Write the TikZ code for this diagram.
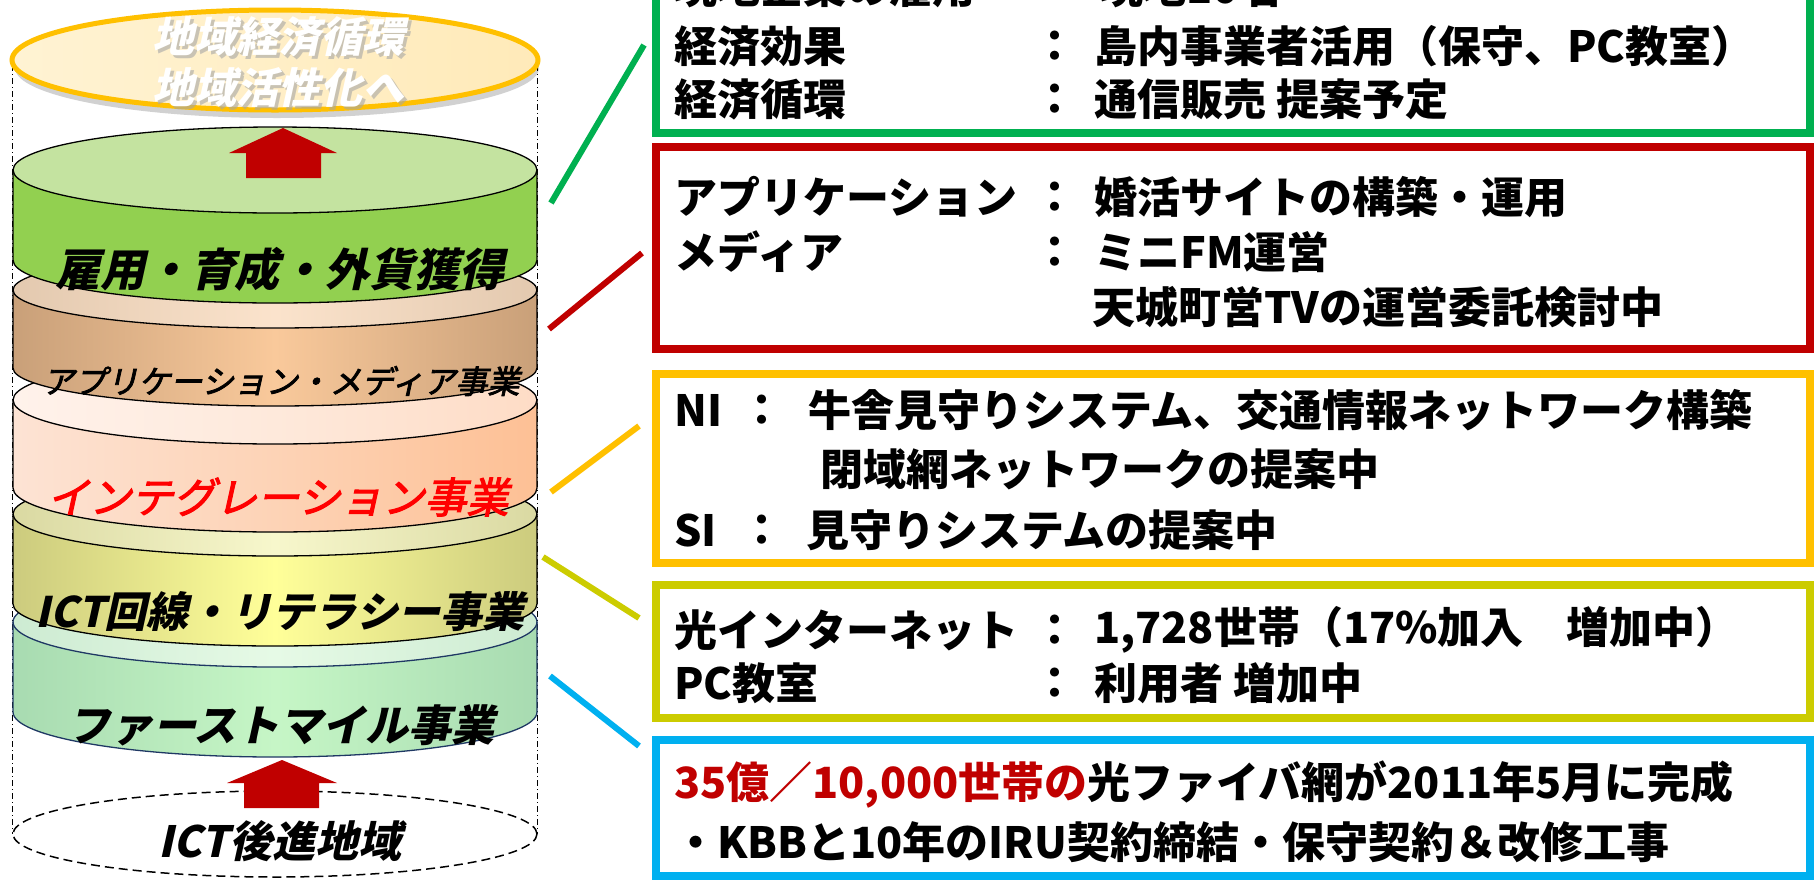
\documentclass[tikz,border=0pt]{standalone}
\usepackage{fontspec}
\setmainfont{Noto Sans CJK JP}
\newfontfamily\jpsl{Noto Sans CJK JP}[FakeSlant=0.22]
\newfontfamily\jpslm{Noto Sans CJK JP}[FakeSlant=0.22, FakeBold=2.5]
\definecolor{cgreen}{HTML}{00B050}
\definecolor{cred}{HTML}{C00000}
\definecolor{cyel}{HTML}{FFC000}
\definecolor{colive}{HTML}{CCCC00}
\definecolor{cblue}{HTML}{00B0F0}
\definecolor{gside}{HTML}{92D050}
\definecolor{gtop}{HTML}{C4E3A0}
\definecolor{bside1}{HTML}{C9A079}
\definecolor{bside2}{HTML}{F9C99B}
\definecolor{btop1}{HTML}{E3C9AF}
\definecolor{btop2}{HTML}{FBE3CC}
\definecolor{pside1}{HTML}{FDE3D4}
\definecolor{pside2}{HTML}{FDD3B6}
\definecolor{pside3}{HTML}{FDC095}
\definecolor{ptop1}{HTML}{FFF2EB}
\definecolor{ptop2}{HTML}{FEE9DB}
\definecolor{ptop3}{HTML}{FEDCC6}
\definecolor{oside1}{HTML}{CCCB7E}
\definecolor{oside2}{HTML}{FFFF99}
\definecolor{otop1}{HTML}{DAD9A2}
\definecolor{otop2}{HTML}{F7F7CC}
\definecolor{lside1}{HTML}{A8DBB1}
\definecolor{lside2}{HTML}{C6F6C6}
\definecolor{ltop1}{HTML}{CDEBD2}
\definecolor{ltop2}{HTML}{E6FAE6}
\definecolor{navy}{HTML}{1F3864}
\definecolor{topfill1}{HTML}{FFF3D3}
\definecolor{topfill2}{HTML}{FFEAB9}
\definecolor{arrowred}{HTML}{C00000}
\def\cylline{black}
% #1 top y, #2 bottom y, #3 ry, #4-#6 side colours (l,m,r), #7-#9 top colours (l,m,r)
\newcommand\drawcyl[9]{%
  \shade[left color=#4, right color=#6, middle color=#5]
    (13,-#1) -- (13,-#2) arc[start angle=180,end angle=360,x radius=262,y radius=#3]
    -- (537,-#1) arc[start angle=0,end angle=-180,x radius=262,y radius=#3] -- cycle;
  \shade[left color=#7, right color=#9, middle color=#8]
    (275,-#1) ellipse[x radius=262,y radius=#3];
  \draw[draw=\cylline, line width=1.3pt]
    (13,-#1) -- (13,-#2) arc[start angle=180,end angle=360,x radius=262,y radius=#3] -- (537,-#1);
  \draw[draw=\cylline, line width=1.3pt] (275,-#1) ellipse[x radius=262,y radius=#3];
}
\tikzset{
  bt/.style={anchor=west, inner sep=0pt, font=\bfseries\fontsize{43}{43}\selectfont},
  colon/.style={inner sep=0pt, font=\bfseries\fontsize{43}{43}\selectfont},
  cyltxt/.style={inner sep=0pt, font=\jpsl\bfseries\fontsize{42}{42}\selectfont},
  infobox/.style={draw=#1, line width=8pt, anchor=north west, inner sep=0pt, outer sep=0pt},
  link/.style={draw=#1, line width=6pt},
  blockarrow/.style={fill=arrowred, draw=none},
}
\begin{document}
\begin{tikzpicture}[x=1pt,y=1pt]
\useasboundingbox (0,0) rectangle (1816,-879);
\clip (0,0) rectangle (1816,-879);
\fill[white] (0,0) rectangle (1816,-879);

% guide lines of the big cylinder
\draw[black, line width=1pt, dash pattern=on 6pt off 3pt on 1pt off 3pt] (12.5,-65) -- (12.5,-834);
\draw[black, line width=1pt, dash pattern=on 6pt off 3pt on 1pt off 3pt] (537.5,-65) -- (537.5,-834);

% bottom dashed ellipse
\draw[black, line width=1.5pt, dash pattern=on 9pt off 5pt] (275,-834) ellipse[x radius=262,y radius=43];

% top ellipse
\fill[black, opacity=0.18] (277,-68) ellipse[x radius=262,y radius=50];
\shade[left color=topfill1, right color=topfill2] (275,-60) ellipse[x radius=263,y radius=50];
\draw[cyel, line width=5pt] (275,-60) ellipse[x radius=263,y radius=50];

% cylinders, bottom first
\def\cylline{navy}
\drawcyl{622}{712}{45}{lside1}{lside2}{lside1}{ltop1}{ltop2}{ltop1}
\def\cylline{black}
\drawcyl{514}{604}{42}{oside1}{oside2}{oside1}{otop1}{otop2}{otop1}
\drawcyl{400}{488}{44}{pside1}{pside2}{pside3}{ptop1}{ptop2}{ptop3}
\drawcyl{290}{368}{38}{bside1}{bside2}{bside1}{btop1}{btop2}{btop1}
\drawcyl{170}{260}{43}{gside}{gside}{gside}{gtop}{gtop}{gtop}

% block arrows
\fill[blockarrow] (283,-128) -- (337,-153) -- (321,-153) -- (321,-178) -- (246,-178) -- (246,-153) -- (229,-153) -- cycle;
\fill[blockarrow] (282,-760) -- (337,-783) -- (319,-783) -- (319,-808) -- (244,-808) -- (244,-783) -- (227,-783) -- cycle;

% texts on the stack
\node[cyltxt, text=black!35, opacity=0.6] (topshadow1) at (281,-40) {地域経済循環};
\node[cyltxt, text=black!35, opacity=0.6] (topshadow2) at (281,-90) {地域活性化へ};
\node[cyltxt, text=white] (top1) at (278,-37) {地域経済循環};
\node[cyltxt, text=white] (top2) at (278,-87) {地域活性化へ};
\node[cyltxt, font=\jpsl\bfseries\fontsize{45}{45}\selectfont] (tgreen) at (280,-269) {雇用・育成・外貨獲得};
\node[cyltxt, font=\jpslm\fontsize{32}{32}\selectfont] (tbrown) at (281,-381) {アプリケーション・メディア事業};
\node[cyltxt, font=\jpslm\fontsize{42}{42}\selectfont, text=red] (tpeach) at (278,-497) {インテグレーション事業};
\node[cyltxt] (tolive) at (280,-612) {ICT回線・リテラシー事業};
\node[cyltxt, font=\jpsl\bfseries\fontsize{43}{43}\selectfont] (tblue) at (281,-725) {ファーストマイル事業};
\node[cyltxt, font=\jpsl\bfseries\fontsize{43}{43}\selectfont] (tbase) at (280,-841) {ICT後進地域};

% info boxes
\node[infobox=cgreen, minimum width=1154pt, minimum height=158pt] (boxG) at (656,25) {};
\node[infobox=cred, minimum width=1154pt, minimum height=202pt] (boxR) at (656,-147) {};
\node[infobox=cyel, minimum width=1154pt, minimum height=189pt] (boxY) at (656,-374) {};
\node[infobox=colive, minimum width=1154pt, minimum height=133pt] (boxO) at (656,-585) {};
\node[infobox=cblue, minimum width=1154pt, minimum height=136pt] (boxB) at (656,-740) {};

% connectors
\coordinate (gA) at (551,-203); \coordinate (gB) at (644,-45);
\coordinate (rA) at (549,-329); \coordinate (rB) at (642,-253);
\coordinate (yA) at (551,-492); \coordinate (yB) at (639,-426);
\coordinate (oA) at (543,-557); \coordinate (oB) at (639,-618);
\coordinate (bA) at (550,-676); \coordinate (bB) at (639,-746);
\draw[link=cgreen] (gA) -- (gB);
\draw[link=cred] (rA) -- (rB);
\draw[link=cyel] (yA) -- (yB);
\draw[link=colive] (oA) -- (oB);
\draw[link=cblue] (bA) -- (bB);

% green box text (first line cut off at the top edge)
\node[bt] (g0l) at (674,13) {現地企業の雇用};
\node[bt] (g0v) at (1100,13) {現地10名};
\node[bt] (g1l) at (674,-46) {経済効果};
\node[colon] (g1c) at (1055,-46) {：};
\node[bt] (g1v) at (1094,-46) {島内事業者活用（保守、PC教室）};
\node[bt] (g2l) at (674,-99) {経済循環};
\node[colon] (g2c) at (1055,-99) {：};
\node[bt] (g2v) at (1094,-99) {通信販売 提案予定};

% red box text
\node[bt] (r1l) at (674,-197) {アプリケーション};
\node[colon] (r1c) at (1055,-197) {：};
\node[bt] (r1v) at (1094,-197) {婚活サイトの構築・運用};
\node[bt] (r2l) at (674,-252) {メディア};
\node[colon] (r2c) at (1055,-252) {：};
\node[bt] (r2v) at (1094,-252) {ミニFM運営};
\node[bt] (r3v) at (1092,-307) {天城町営TVの運営委託検討中};

% yellow box text
\node[bt] (y1l) at (674,-410) {NI};
\node[colon] (y1c) at (762,-410) {：};
\node[bt] (y1v) at (808,-410) {牛舎見守りシステム、交通情報ネットワーク構築};
\node[bt] (y2v) at (820,-469) {閉域網ネットワークの提案中};
\node[bt] (y3l) at (674,-530) {SI};
\node[colon] (y3c) at (762,-530) {：};
\node[bt] (y3v) at (806,-530) {見守りシステムの提案中};

% olive box text
\node[bt] (o1l) at (674,-630) {光インターネット};
\node[colon] (o1c) at (1055,-630) {：};
\node[bt] (o1v) at (1094,-630) {1,728世帯（17\%加入　増加中）};
\node[bt] (o2l) at (674,-683) {PC教室};
\node[colon] (o2c) at (1055,-683) {：};
\node[bt] (o2v) at (1094,-683) {利用者 増加中};

% blue box text
\node[bt] (b1) at (674,-785) {\textcolor{cred}{35億／10,000世帯の}光ファイバ網が2011年5月に完成};
\node[bt] (b2) at (674,-842) {・KBBと10年のIRU契約締結・保守契約＆改修工事};
\end{tikzpicture}
\end{document}
